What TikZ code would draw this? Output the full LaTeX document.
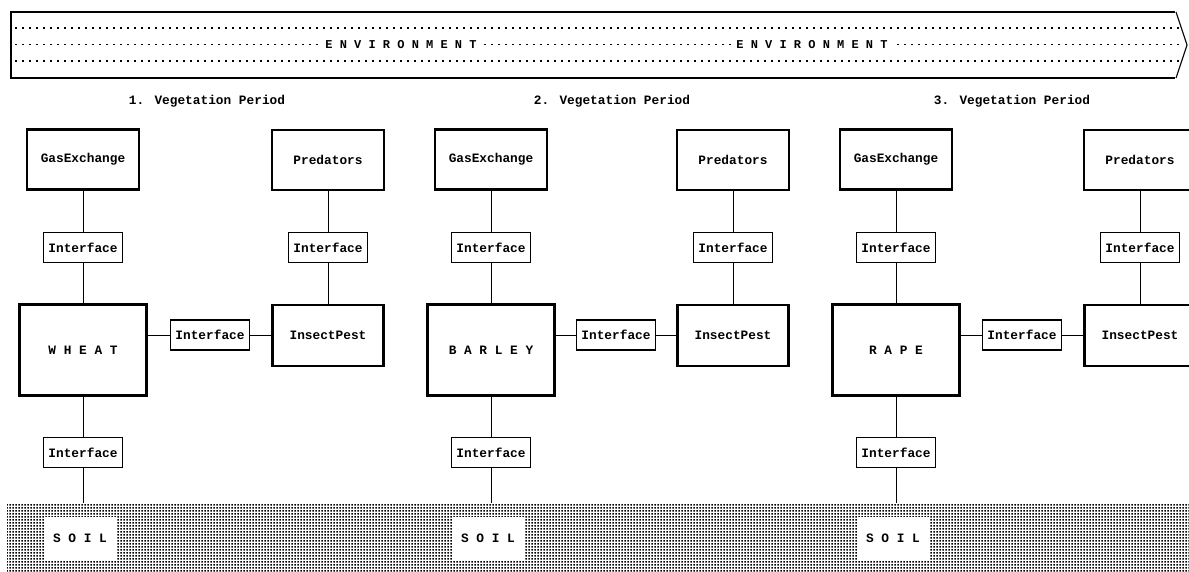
\documentclass[tikz,border=0pt]{standalone}
\usepackage{fontspec}
\usetikzlibrary{patterns}
\newfontfamily\typewriter{Liberation Mono}

% dense dot raster used for the soil band
\pgfdeclarepatternformonly{soildots}{\pgfqpoint{0pt}{0pt}}{\pgfqpoint{3pt}{3pt}}{\pgfqpoint{3pt}{3pt}}{%
  \pgfpathrectangle{\pgfqpoint{0.5pt}{0.4pt}}{\pgfqpoint{2pt}{2.2pt}}\pgfusepath{fill}}

\tikzset{
  tw/.style={font=\typewriter\bfseries\fontsize{12.8}{14}\selectfont},
  mainbox/.style={tw, draw, line width=2.2pt, fill=white, inner sep=0pt,
                  minimum width=112pt, minimum height=60pt},
  cropbox/.style={mainbox, minimum width=127pt, minimum height=91pt},
  pestbox/.style={mainbox, minimum width=111pt, minimum height=61pt},
  ifbox/.style={tw, draw, line width=1.1pt, fill=white, inner sep=0pt,
                minimum width=79pt, minimum height=30pt},
  link/.style={line width=1pt},
  soilbox/.style={tw, fill=white, inner sep=0pt, minimum width=73pt, minimum height=43pt},
  periodlabel/.style={tw},
  envlabel/.style={fill=white, inner xsep=4pt, inner ysep=2pt,
                   font=\typewriter\bfseries\fontsize{12}{14}\selectfont},
  envframe/.style={line width=2.2pt},
  envtip/.style={line width=1.1pt},
  dotrow/.style={line width=1.6pt, dash pattern=on 1.6pt off 5.4pt},
}

\begin{document}
\begin{tikzpicture}[x=1pt,y=-1pt]
\useasboundingbox (0,0) rectangle (1189,572);
\clip (0,0) rectangle (1189,572);

% ---- environment banner ----
\draw[envframe] (1175,12) -- (11,12) -- (11,78) -- (1175,78);
\draw[envtip] (1176,12) -- (1187,45) -- (1176,78);
\foreach \yy in {28,44.5,61}
  \draw[dotrow] (15,\yy) -- (1182,\yy);
\node[envlabel] (env1) at (401,44.5) {E N V I R O N M E N T};
\node[envlabel] (env2) at (812,44.5) {E N V I R O N M E N T};

% ---- soil band ----
\fill[pattern=soildots] (7,503) rectangle (1189,572);

% ---- the three vegetation periods ----
\foreach \cx/\px/\tx/\ix/\crop [count=\i] in
   {83/328/207/210/W H E A T,
    491/733/612/616/B A R L E Y,
    896/1140/1012/1022/R A P E}
{
  \node[periodlabel] (title\i) at (\tx,101) {\i. Vegetation Period};

  \node[mainbox] (gas\i)  at (\cx,159.5) {GasExchange};
  \node[mainbox] (pred\i) at (\px,160)   {Predators};
  \node[ifbox]   (ifgas\i)  at (\cx,247.5) {Interface};
  \node[ifbox]   (ifpred\i) at (\px,247.5) {Interface};
  \node[cropbox] (crop\i) at (\cx,350)   {\crop};
  \node[ifbox]   (ifpest\i) at (\ix,335) {Interface};
  \node[pestbox] (pest\i) at (\px,335.5) {InsectPest};
  \node[ifbox]   (ifsoil\i) at (\cx,452.5) {Interface};
  \node[soilbox] (soil\i) at (\cx-3,538.5) {S O I L};
  \coordinate (ground\i) at (\cx,503);

  \draw[link] (gas\i) -- (ifgas\i);
  \draw[link] (ifgas\i) -- (crop\i);
  \draw[link] (pred\i) -- (ifpred\i);
  \draw[link] (ifpred\i) -- (pest\i);
  \draw[link] (ifpest\i.west) -- (ifpest\i.west -| crop\i.east);
  \draw[link] (ifpest\i.east) -- (ifpest\i.east -| pest\i.west);
  \draw[link] (crop\i) -- (ifsoil\i);
  \draw[link] (ifsoil\i) -- (ground\i);
}
\end{tikzpicture}
\end{document}
